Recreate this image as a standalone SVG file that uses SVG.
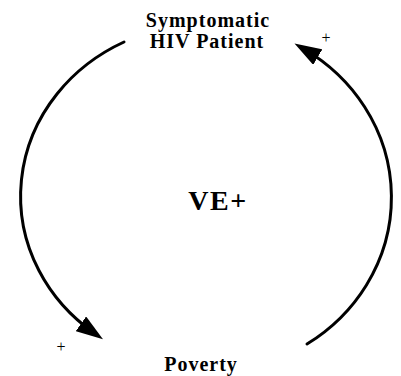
<svg xmlns="http://www.w3.org/2000/svg" width="401" height="376" viewBox="0 0 401 376">
  <style>
    .label { font-family: "Liberation Serif", "Times New Roman", serif; font-weight: bold; fill: #000; text-anchor: middle; }
    .node { font-size: 20px; letter-spacing: 1px; }
    .loop { font-size: 28px; letter-spacing: 1.5px; }
    .sign { font-family: "Liberation Serif", "Times New Roman", serif; font-size: 16px; fill: #000; text-anchor: middle; }
    .link { fill: none; stroke: #000; stroke-width: 3; stroke-linecap: round; marker-end: url(#head); }
  </style>
  <defs>
    <marker id="head" viewBox="0 0 27 18" markerWidth="27" markerHeight="18" refX="16" refY="9" orient="auto" markerUnits="userSpaceOnUse">
      <path d="M0 0 L27 9 L0 18 Z" fill="#000"/>
    </marker>
  </defs>

  <g id="symptomatic-hiv-patient">
    <text class="label node" x="208" y="27">Symptomatic</text>
    <text class="label node" x="207" y="48">HIV Patient</text>
  </g>

  <g id="poverty">
    <text class="label node" x="201" y="371">Poverty</text>
  </g>

  <g id="loop-polarity">
    <text class="label loop" x="218" y="210">VE+</text>
  </g>

  <g id="connectors">
    <path class="link" d="M124 42 A186 172 0 0 0 94 333"/>
    <path class="link" d="M307 344 A186 175 0 0 0 304 49"/>
    <text class="sign" x="61" y="352">+</text>
    <text class="sign" x="326" y="43">+</text>
  </g>
</svg>
